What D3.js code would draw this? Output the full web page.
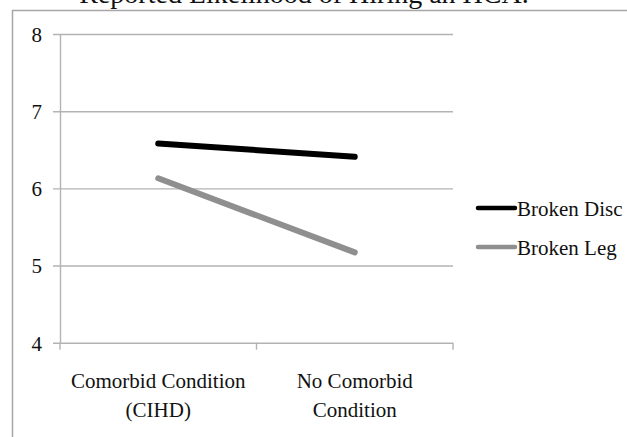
<!DOCTYPE html>
<html>
<head>
<meta charset="utf-8">
<script src="https://cdn.jsdelivr.net/npm/d3@7"></script>
<style>
  body { margin: 0; background: #fff; }
</style>
</head>
<body>
<svg></svg>
<script>
var categories = ["Comorbid Condition (CIHD)", "No Comorbid Condition"]
var categoryLines = [["Comorbid Condition", "(CIHD)"], ["No Comorbid", "Condition"]]
var seriesNames = ["Broken Disc", "Broken Leg"]
var brokenDisc = [6.58, 6.41]
var brokenLeg = [6.13, 5.17]
var yTicks = [4, 5, 6, 7, 8]
var titleText = "Reported Likelihood of Hiring an HCA."

var screen = {width: 627, height: 437}
var plot = {left: 60, right: 453, top: 34, bottom: 342.7}
var colors = ["#000000", "#8f8f8f"]
var serif = "'Liberation Serif', 'Times New Roman', serif"

var svg = d3.select("svg")
    .attr("width", screen.width)
    .attr("height", screen.height)

// outer frame (only top and left edges are in view)
svg.append("path")
    .attr("d", "M12.5," + screen.height + "V10.5H" + screen.width)
    .attr("fill", "none")
    .attr("stroke", "#a6a6a6")
    .attr("stroke-width", 1.5)

svg.append("text")
    .attr("x", 304)
    .attr("y", 3)
    .attr("text-anchor", "middle")
    .style("font-family", serif)
    .style("font-size", "28px")
    .attr("fill", "#111")
    .text(titleText)

var yScale = d3.scaleLinear()
    .domain([4, 8])
    .range([plot.bottom, plot.top])

var xScale = d3.scaleBand()
    .domain(categories)
    .range([plot.left, plot.right])

var xMid = function(c) { return xScale(c) + xScale.bandwidth() / 2 }

// gridlines
var grid = svg.append("g")
    .attr("transform", "translate(53,0)")
    .call(d3.axisRight(yScale).tickValues(yTicks).tickSize(plot.right - 53).tickFormat(""))
grid.select(".domain").remove()
grid.selectAll("line").attr("stroke", "#b3b3b3").attr("stroke-width", 1.4)

// y axis
var yAxis = svg.append("g")
    .attr("transform", "translate(" + plot.left + ",0)")
    .call(d3.axisLeft(yScale).tickValues(yTicks).tickSize(0).tickPadding(18).tickFormat(d3.format("d")))
yAxis.attr("font-family", null).attr("font-size", null)
yAxis.select(".domain").attr("stroke", "#b3b3b3").attr("stroke-width", 1.4)
yAxis.selectAll("text")
    .style("font-family", serif)
    .style("font-size", "21px")
    .attr("fill", "#111")
    .attr("dy", "0.35em")

// x axis ticks at band edges
var edges = categories.map(function(c) { return xScale(c) }).concat([plot.right])
svg.append("g")
    .selectAll("line")
    .data(edges)
    .enter()
    .append("line")
    .attr("x1", function(d) { return d })
    .attr("x2", function(d) { return d })
    .attr("y1", plot.bottom)
    .attr("y2", plot.bottom + 7)
    .attr("stroke", "#b3b3b3")
    .attr("stroke-width", 1.4)

var xAxis = svg.append("g")
    .attr("transform", "translate(0," + plot.bottom + ")")
    .call(d3.axisBottom(xScale).tickSize(0).tickFormat(""))
xAxis.attr("font-family", null).attr("font-size", null)
xAxis.select(".domain").remove()
xAxis.selectAll(".tick").each(function(d, i) {
    var t = d3.select(this).append("text")
        .attr("text-anchor", "middle")
        .attr("fill", "#111")
        .style("font-family", serif)
        .style("font-size", "21px")
    t.selectAll("tspan")
        .data(categoryLines[i])
        .enter()
        .append("tspan")
        .attr("x", 0)
        .attr("y", function(l, j) { return 45.5 + j * 28.5 })
        .text(function(l) { return l })
})

// series lines
var series = [brokenDisc, brokenLeg]
var line = d3.line()
    .x(function(v, i) { return xMid(categories[i]) })
    .y(function(v) { return yScale(v) })

svg.append("g")
    .selectAll("path")
    .data(series)
    .enter()
    .append("path")
    .attr("d", line)
    .attr("fill", "none")
    .attr("stroke", function(d, i) { return colors[i] })
    .attr("stroke-width", 6)
    .attr("stroke-linecap", "round")

// legend
var legend = svg.append("g")
    .selectAll("g")
    .data(seriesNames)
    .enter()
    .append("g")
    .attr("transform", function(d, i) { return "translate(478," + (208 + i * 39) + ")" })

legend.append("line")
    .attr("x1", 0)
    .attr("x2", 37)
    .attr("stroke", function(d, i) { return colors[i] })
    .attr("stroke-width", 4.5)
    .attr("stroke-linecap", "round")

legend.append("text")
    .attr("x", 39)
    .attr("y", 8)
    .attr("fill", "#111")
    .style("font-family", serif)
    .style("font-size", "21px")
    .text(function(d) { return d })
</script>
</body>
</html>
